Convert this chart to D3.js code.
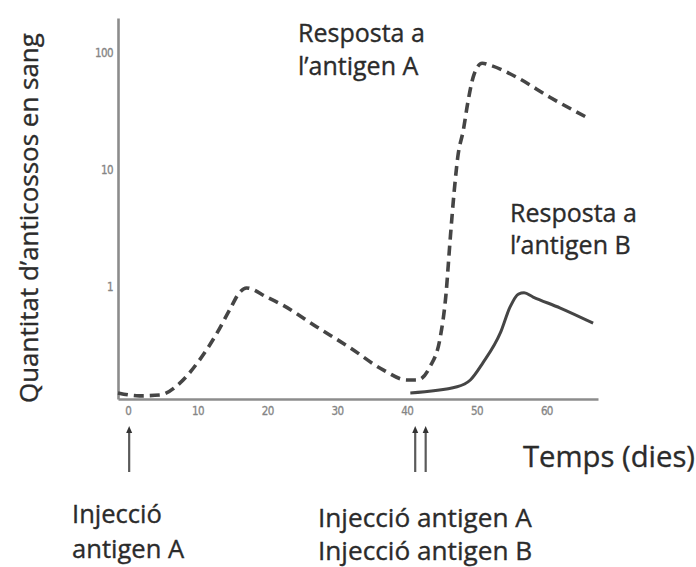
<!DOCTYPE html>
<html>
<head>
<meta charset="utf-8">
<script src="https://cdn.jsdelivr.net/npm/d3@7"></script>
<style>
  html, body { margin: 0; padding: 0; background: #fff; }
  svg { display: block; }
  text { font-family: "Open Sans", "Noto Sans", sans-serif; fill: #2b2b2b; stroke: #2b2b2b; stroke-width: 0.35px; }
  .tick text { font-family: "Liberation Sans Narrow", "DejaVu Sans Condensed", sans-serif; fill: #858585; stroke: #858585; stroke-width: 0.3px; font-size: 11.5px; letter-spacing: -0.6px; }
</style>
</head>
<body>
<svg id="chart" width="696" height="567"></svg>
<script>
// Data (days, antibody quantity on log scale)
const responseADays = [-1.4, 1.7, 4.6, 7.5, 10.3, 12.8, 14.6, 16.1, 17.0, 19.9, 22.2, 27.1, 31.9, 36.6, 40.0, 41.5, 43.3, 44.8, 45.6, 46.2, 46.8, 47.3, 48.1, 48.8, 49.6, 50.8, 51.9, 55.8, 60.5, 66.0];
const responseAValues = [0.124, 0.117, 0.119, 0.151, 0.238, 0.404, 0.636, 0.906, 0.98, 0.82, 0.70, 0.455, 0.301, 0.195, 0.160, 0.160, 0.207, 0.374, 0.85, 2.5, 6.7, 12.9, 22, 39.6, 65, 82, 79, 62, 42, 27.8];

const responseBDays = [40.5, 47.2, 49.1, 50.9, 53.4, 54.8, 56.0, 56.8, 58.1, 62.0, 66.7];
const responseBValues = [0.124, 0.14, 0.16, 0.224, 0.404, 0.675, 0.87, 0.89, 0.82, 0.66, 0.49];

const injectionDays = [0.2, 41.2, 42.7];

const xTicks = [0, 10, 20, 30, 40, 50, 60];
const yTicks = [1, 10, 100];

const yLabel = "Quantitat d\u2019anticossos en sang";
const xLabel = "Temps (dies)";
const labelA = ["Resposta a", "l\u2019antigen A"];
const labelB = ["Resposta a", "l\u2019antigen B"];
const injLabelLeft = ["Injecci\u00f3", "antigen A"];
const injLabelRight = ["Injecci\u00f3 antigen A", "Injecci\u00f3 antigen B"];

const svg = d3.select('#chart');

const x = d3.scaleLinear().domain([-1.4, 67.4]).range([118, 598]);
const y = d3.scaleLog().domain([0.11, 200]).range([399, 18]);

const axisColor = '#8c8c8c';
const lineColor = '#454545';

// Axes
const xAxis = svg.append('g')
    .attr('transform', `translate(0,${y.range()[0]})`)
    .call(d3.axisBottom(x).tickValues(xTicks).tickSize(0).tickPadding(8));
const yAxis = svg.append('g')
    .attr('transform', `translate(${x.range()[0]},0)`)
    .call(d3.axisLeft(y).tickValues(yTicks).tickFormat(d3.format('d')).tickSize(0).tickPadding(5));

[xAxis, yAxis].forEach(a => {
    a.select('.domain').attr('stroke', axisColor).attr('stroke-width', 2.6);
    a.attr('font-family', null).attr('font-size', null);
});

// Curves
const lineA = d3.line()
    .x((d, i) => x(responseADays[i]))
    .y(d => y(d))
    .curve(d3.curveMonotoneX);
const lineB = d3.line()
    .x((d, i) => x(responseBDays[i]))
    .y(d => y(d))
    .curve(d3.curveMonotoneX);

svg.append('path')
    .attr('d', lineA(responseAValues))
    .attr('fill', 'none')
    .attr('stroke', lineColor)
    .attr('stroke-width', 3.6)
    .attr('stroke-dasharray', '10,6');

svg.append('path')
    .attr('d', lineB(responseBValues))
    .attr('fill', 'none')
    .attr('stroke', lineColor)
    .attr('stroke-width', 3);

// Injection arrows
const arrows = svg.append('g');
injectionDays.forEach(d => {
    const ax = x(d);
    arrows.append('line')
        .attr('x1', ax).attr('x2', ax)
        .attr('y1', 430).attr('y2', 472)
        .attr('stroke', '#5a5a5a')
        .attr('stroke-width', 2.2);
    arrows.append('path')
        .attr('d', `M${ax - 3},${433} L${ax},${426} L${ax + 3},${433} Z`)
        .attr('fill', '#333');
});

// Text helper: fit first line to a target width, reuse that size for the rest
function addLines(lines, left, baselines, width) {
    let size = 20;
    lines.forEach((t, i) => {
        const el = svg.append('text')
            .attr('x', left)
            .attr('y', baselines[i])
            .style('font-size', size + 'px')
            .text(t);
        if (i === 0 && width) {
            const w = el.node().getComputedTextLength();
            size = 20 * width / w;
            el.style('font-size', size + 'px');
        }
    });
}

addLines(labelA, 298, [42, 75], 127);
addLines(labelB, 510, [222, 254], 127);
addLines([xLabel], 523, [467], 172);
addLines(injLabelLeft, 72, [523, 558], 90);
addLines(injLabelRight, 318, [527, 560], 214);

// Y axis title
const yt = svg.append('text')
    .attr('transform', 'translate(38,403) rotate(-90)')
    .style('font-size', '20px')
    .text(yLabel);
const yw = yt.node().getComputedTextLength();
yt.style('font-size', (20 * 370 / yw) + 'px');
</script>
</body>
</html>
